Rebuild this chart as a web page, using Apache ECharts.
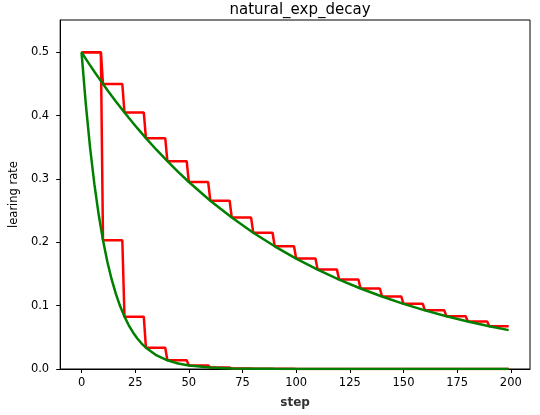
<!DOCTYPE html>
<html>
<head>
<meta charset="utf-8">
<script src="https://cdn.jsdelivr.net/npm/echarts@6/dist/echarts.min.js"></script>
<style>
  html, body { margin: 0; padding: 0; background: #fff; }
  #chart { width: 540px; height: 415px; }
</style>
</head>
<body>
<div id="chart"></div>
<script>
// staircase: first step of each block of 10, value held until step+9
const stairStarts = [0, 10, 20, 30, 40, 50, 60, 70, 80, 90, 100, 110, 120, 130, 140, 150, 160, 170, 180, 190];
const stairSlow = [0.5, 0.45, 0.405, 0.3645, 0.328, 0.2952, 0.2657, 0.2391, 0.2152, 0.1937,
    0.1743, 0.1569, 0.1412, 0.1271, 0.1144, 0.1029, 0.0926, 0.0834, 0.075, 0.0675];
const stairFast = [0.5, 0.2033, 0.0826, 0.0336, 0.0137, 0.0056, 0.0023, 0.0009, 0.0004, 0.0002,
    0.0001, 0, 0, 0, 0, 0, 0, 0, 0, 0];

// smooth curves
const curveSteps = [0, 2, 4, 6, 8, 10, 12, 14, 16, 18, 20, 22, 24, 26, 28, 30, 35, 40, 45, 50,
    60, 70, 80, 90, 100, 110, 120, 130, 140, 150, 160, 170, 180, 190, 199];
const curveSlow = [0.5, 0.4896, 0.4794, 0.4694, 0.4596, 0.45, 0.4406, 0.4314, 0.4224, 0.4136,
    0.405, 0.3966, 0.3883, 0.3802, 0.3723, 0.3645, 0.3458, 0.3281, 0.3112, 0.2952,
    0.2657, 0.2391, 0.2152, 0.1937, 0.1743, 0.1569, 0.1412, 0.1271, 0.1144, 0.1029,
    0.0926, 0.0834, 0.075, 0.0675, 0.0614];
const curveFast = [0.5, 0.4176, 0.3488, 0.2914, 0.2434, 0.2033, 0.1698, 0.1418, 0.1185, 0.099,
    0.0827, 0.069, 0.0577, 0.0482, 0.0402, 0.0336, 0.0214, 0.0137, 0.0087, 0.0056,
    0.0023, 0.0009, 0.0004, 0.0002, 0.0001, 0, 0, 0, 0, 0,
    0, 0, 0, 0, 0];

const xTicks = [0, 25, 50, 75, 100, 125, 150, 175, 200];
const yTicks = [0, 0.1, 0.2, 0.3, 0.4, 0.5];

function stairPoints(vals) {
    let pts = [];
    stairStarts.forEach((s, i) => {
        pts.push([s, vals[i]]);
        pts.push([s + 9, vals[i]]);
    });
    return pts;
}
function curvePoints(vals) {
    return curveSteps.map((s, i) => [s, vals[i]]);
}

const font = 'DejaVu Sans';
const chart = echarts.init(document.getElementById('chart'));

const option = {
    animation: false,
    backgroundColor: '#fff',
    title: {
        text: 'natural_exp_decay',
        left: 295,
        top: -2,
        textAlign: 'center',
        textStyle: { fontFamily: font, fontSize: 15, fontWeight: 'normal', color: '#000' }
    },
    grid: {
        left: 60, right: 10, top: 20, bottom: 46,
        show: true, borderColor: '#000', borderWidth: 1, backgroundColor: 'transparent'
    },
    xAxis: {
        type: 'value',
        min: -9.95,
        max: 208.95,
        name: 'step',
        nameLocation: 'middle',
        nameGap: 28,
        nameTextStyle: { fontFamily: font, fontSize: 12, fontWeight: 'bold', color: '#333' },
        splitLine: { show: false },
        axisLine: { show: true, onZero: false, lineStyle: { color: '#000', width: 1 } },
        axisTick: { show: true, customValues: xTicks, length: 4, lineStyle: { color: '#000' } },
        axisLabel: {
            customValues: xTicks, margin: 8,
            fontFamily: font, fontSize: 11.5, color: '#000'
        }
    },
    yAxis: {
        type: 'value',
        min: 0,
        max: 0.551,
        name: 'learing rate',
        nameLocation: 'middle',
        nameGap: 35,
        nameTextStyle: { fontFamily: font, fontSize: 11.5, color: '#000' },
        splitLine: { show: false },
        axisLine: { show: true, onZero: false, lineStyle: { color: '#000', width: 1 } },
        axisTick: { show: true, customValues: yTicks, length: 4, lineStyle: { color: '#000' } },
        axisLabel: {
            customValues: yTicks, margin: 11,
            fontFamily: font, fontSize: 11.5, color: '#000',
            formatter: v => v.toFixed(1)
        }
    },
    series: [
        {
            type: 'line', data: stairPoints(stairSlow), showSymbol: false,
            lineStyle: { color: '#ff0000', width: 2.5 }, z: 2
        },
        {
            type: 'line', data: stairPoints(stairFast), showSymbol: false,
            lineStyle: { color: '#ff0000', width: 2.5 }, z: 2
        },
        {
            type: 'line', data: curvePoints(curveSlow), showSymbol: false,
            lineStyle: { color: '#008000', width: 2.5 }, z: 3
        },
        {
            type: 'line', data: curvePoints(curveFast), showSymbol: false,
            lineStyle: { color: '#008000', width: 2.5 }, z: 3
        }
    ]
};

chart.setOption(option);
</script>
</body>
</html>
